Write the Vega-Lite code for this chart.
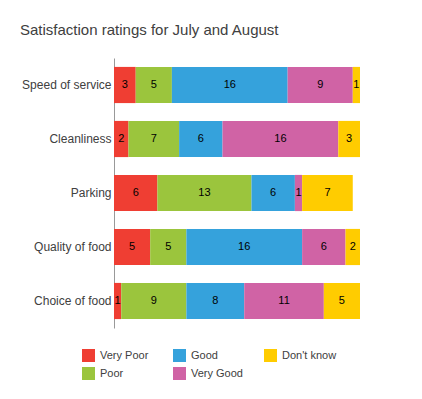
{
  "$schema": "https://vega.github.io/schema/vega-lite/v6.json",
  "width": 246,
  "height": 270,
  "autosize": "none",
  "padding": {"left": 114, "top": 58, "right": 62, "bottom": 71},
  "background": "white",
  "title": {
    "text": "Satisfaction ratings for July and August",
    "anchor": "start",
    "frame": "group",
    "dx": -94,
    "offset": 20,
    "fontSize": 15,
    "fontWeight": "normal",
    "font": "Liberation Sans",
    "color": "#404040"
  },
  "config": {
    "view": {"stroke": null},
    "font": "Liberation Sans"
  },
  "data": {
    "values": [
      {"item": "Speed of service", "rating": "Very Poor", "rank": 1, "n": 3},
      {"item": "Speed of service", "rating": "Poor", "rank": 2, "n": 5},
      {"item": "Speed of service", "rating": "Good", "rank": 3, "n": 16},
      {"item": "Speed of service", "rating": "Very Good", "rank": 4, "n": 9},
      {"item": "Speed of service", "rating": "Don't know", "rank": 5, "n": 1},
      {"item": "Cleanliness", "rating": "Very Poor", "rank": 1, "n": 2},
      {"item": "Cleanliness", "rating": "Poor", "rank": 2, "n": 7},
      {"item": "Cleanliness", "rating": "Good", "rank": 3, "n": 6},
      {"item": "Cleanliness", "rating": "Very Good", "rank": 4, "n": 16},
      {"item": "Cleanliness", "rating": "Don't know", "rank": 5, "n": 3},
      {"item": "Parking", "rating": "Very Poor", "rank": 1, "n": 6},
      {"item": "Parking", "rating": "Poor", "rank": 2, "n": 13},
      {"item": "Parking", "rating": "Good", "rank": 3, "n": 6},
      {"item": "Parking", "rating": "Very Good", "rank": 4, "n": 1},
      {"item": "Parking", "rating": "Don't know", "rank": 5, "n": 7},
      {"item": "Quality of food", "rating": "Very Poor", "rank": 1, "n": 5},
      {"item": "Quality of food", "rating": "Poor", "rank": 2, "n": 5},
      {"item": "Quality of food", "rating": "Good", "rank": 3, "n": 16},
      {"item": "Quality of food", "rating": "Very Good", "rank": 4, "n": 6},
      {"item": "Quality of food", "rating": "Don't know", "rank": 5, "n": 2},
      {"item": "Choice of food", "rating": "Very Poor", "rank": 1, "n": 1},
      {"item": "Choice of food", "rating": "Poor", "rank": 2, "n": 9},
      {"item": "Choice of food", "rating": "Good", "rank": 3, "n": 8},
      {"item": "Choice of food", "rating": "Very Good", "rank": 4, "n": 11},
      {"item": "Choice of food", "rating": "Don't know", "rank": 5, "n": 5}
    ]
  },
  "transform": [
    {"stack": "n", "groupby": ["item"], "sort": [{"field": "rank", "order": "ascending"}], "as": ["v0", "v1"], "offset": "zero"},
    {"calculate": "(datum.v0 + datum.v1) / 2", "as": "mid"}
  ],
  "encoding": {
    "y": {
      "field": "item",
      "type": "nominal",
      "sort": ["Speed of service", "Cleanliness", "Parking", "Quality of food", "Choice of food"],
      "scale": {"paddingInner": 0.33, "paddingOuter": 0.165},
      "axis": {
        "title": null,
        "ticks": false,
        "grid": false,
        "domain": true,
        "domainColor": "#999999",
        "labelFontSize": 12,
        "labelColor": "#404040",
        "labelPadding": 3,
        "labelFont": "Liberation Sans"
      }
    }
  },
  "layer": [
    {
      "mark": {"type": "bar"},
      "encoding": {
        "x": {
          "field": "v0",
          "type": "quantitative",
          "scale": {"domain": [0, 34], "nice": false, "zero": true},
          "axis": null
        },
        "x2": {"field": "v1"},
        "color": {
          "field": "rating",
          "type": "nominal",
          "scale": {
            "domain": ["Very Poor", "Good", "Don't know", "Poor", "Very Good"],
            "range": ["#ef3e33", "#35a2dc", "#ffcc00", "#9bc53d", "#d063a5"]
          },
          "legend": {
            "title": null,
            "orient": "none",
            "legendX": -32,
            "legendY": 291,
            "direction": "horizontal",
            "columns": 3,
            "gridAlign": "all",
            "columnPadding": 18,
            "rowPadding": 5,
            "padding": 0,
            "symbolType": "square",
            "symbolSize": 169,
            "symbolStrokeWidth": 0,
            "labelFontSize": 11,
            "labelColor": "#404040",
            "labelOffset": 5,
            "labelFont": "Liberation Sans"
          }
        }
      }
    },
    {
      "mark": {"type": "text", "fontSize": 11, "color": "#000000", "font": "Liberation Sans", "align": "center", "baseline": "middle"},
      "encoding": {
        "x": {"field": "mid", "type": "quantitative"},
        "text": {"field": "n", "type": "quantitative"}
      }
    }
  ]
}
